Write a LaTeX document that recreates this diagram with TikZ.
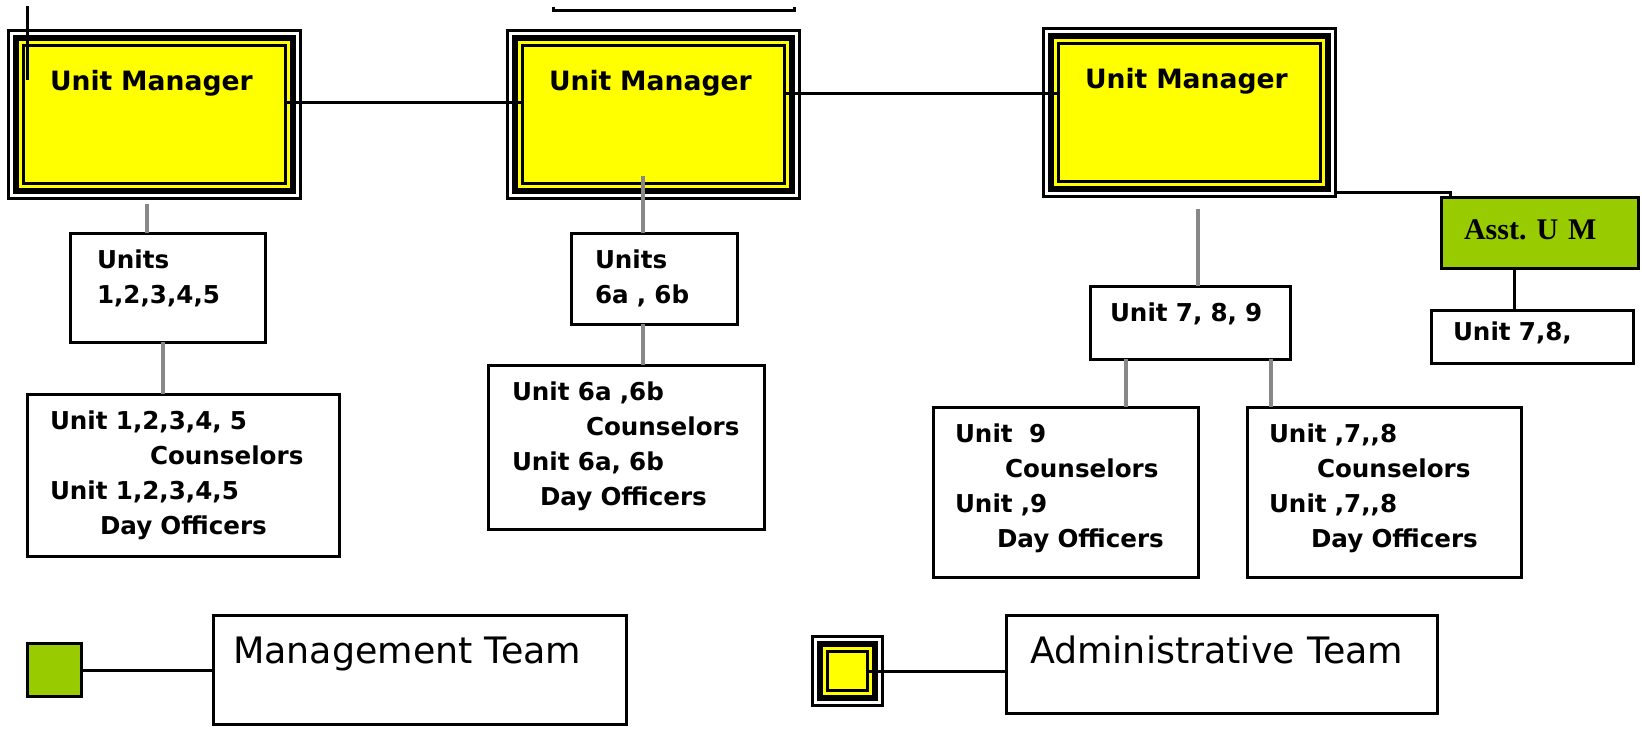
\documentclass[tikz,border=0pt]{standalone}
\usepackage{fontspec}
\setmainfont{DejaVu Sans}
\newfontfamily\asstfont{Liberation Serif}
\usetikzlibrary{positioning, calc}
\definecolor{umyellow}{RGB}{255,255,0}
\definecolor{umgreen}{RGB}{153,204,0}
\definecolor{lngray}{RGB}{136,136,136}
\frenchspacing

\begin{document}
\begin{tikzpicture}[
  x=0.5pt, y=-0.5pt,
  orgline/.style={draw=black, line width=1.5pt},
  orggrey/.style={draw=lngray, line width=2pt},
  orgbox/.style={draw=black, fill=white, line width=1.5pt, inner sep=0pt, outer sep=0pt,
    align=left, font=\fontsize{12.3pt}{17.5pt}\selectfont\bfseries, text height=17.5pt},
  umbox/.style={orgbox, fill=umyellow, minimum width=131pt, text width=104.5pt,
    text height=22.5pt, text depth=46.5pt, font=\fontsize{13.3pt}{16pt}\selectfont\bfseries},
  legbox/.style={orgbox, font=\fontsize{18.2pt}{22pt}\selectfont, text height=23.75pt}
]
\useasboundingbox (0,0) rectangle (1642,731);

%--------------------------------------------------------------
% Unit managers
%--------------------------------------------------------------
\node[umbox] (um1) at (154.5,114.5) {Unit Manager};
\node[umbox] (um2) at (653.5,114.5) {Unit Manager};
\node[umbox] (um3) at (1189.5,113) {Unit Manager};

%--------------------------------------------------------------
% Units and staff
%--------------------------------------------------------------
\node[orgbox, minimum width=97.5pt, text width=71pt, text depth=37pt] (u1) at (168,288)
  {Units\\1,2,3,4,5};
\node[orgbox, minimum width=156pt, text width=133.5pt, text depth=63.5pt] (c1) at (183.5,475.5)
  {Unit 1,2,3,4, 5\\\hspace*{50pt}Counselors\\Unit 1,2,3,4,5\\\hspace*{25pt}Day Officers};

\node[orgbox, minimum width=83pt, text width=59.5pt, text depth=28pt] (u2) at (654.5,279)
  {Units\\6a , 6b};
\node[orgbox, minimum width=138pt, text width=114.5pt, text depth=64.5pt] (c2) at (626.5,447.5)
  {Unit 6a ,6b\\\hspace*{37pt}Counselors\\Unit 6a, 6b\\\hspace*{14pt}Day Officers};

\node[orgbox, minimum width=100pt, text width=80.5pt, text depth=19pt] (u3) at (1190.5,323)
  {Unit 7, 8, 9};
\node[orgbox, minimum width=132.5pt, text width=111pt, text depth=67.5pt] (c3) at (1066,492.5)
  {Unit\ \ 9\\\hspace*{25pt}Counselors\\Unit ,9\\\hspace*{21pt}Day Officers};
\node[orgbox, minimum width=137pt, text width=115.5pt, text depth=67.5pt] (c4) at (1384.5,492.5)
  {Unit ,7,{},8\\\hspace*{24pt}Counselors\\Unit ,7,{},8\\\hspace*{21pt}Day Officers};

\node[orgbox, fill=umgreen, minimum width=98.5pt, text width=76pt, text height=21.25pt,
  text depth=14.25pt, font=\fontsize{15pt}{16pt}\selectfont\asstfont\bfseries] (asst) at (1540,233)
  {Asst. U M};
\node[orgbox, minimum width=101pt, text width=79.5pt, text height=15.25pt, text depth=11.25pt]
  (u4) at (1532.5,337) {Unit 7,8,};

%--------------------------------------------------------------
% Legend
%--------------------------------------------------------------
\node[orgbox, fill=umgreen, minimum width=27pt, minimum height=26.5pt] (lgm) at (54.5,670) {};
\node[legbox, minimum width=206.5pt, text width=187pt, text depth=30.75pt] (mgmt) at (420,670)
  {Management Team};
\node[orgbox, fill=umyellow, minimum width=20pt, minimum height=19.5pt] (lad) at (847.5,671) {};
\node[legbox, minimum width=215.5pt, text width=192pt, text depth=25.25pt] (adm) at (1222,664.5)
  {Administrative Team};

% layered frames of the administrative boxes
\foreach \n in {um1, um2, um3, lad}{
  \draw[umyellow, line width=1.5pt] ([shift={(-1.5pt,-1.5pt)}]\n.south west) rectangle ([shift={(1.5pt,1.5pt)}]\n.north east);
  \draw[black, line width=3pt] ([shift={(-3.75pt,-3.75pt)}]\n.south west) rectangle ([shift={(3.75pt,3.75pt)}]\n.north east);
  \draw[black, line width=1.5pt] ([shift={(-7.5pt,-7.5pt)}]\n.south west) rectangle ([shift={(7.5pt,7.5pt)}]\n.north east);
}

%--------------------------------------------------------------
% Connectors
%--------------------------------------------------------------
\draw[orgline] ([yshift=5.75pt]um1.east) -- ([yshift=5.75pt]um2.west);
\draw[orgline] ([yshift=10.25pt]um2.east) -- ([yshift=10.25pt]um2.east -| um3.west);
\draw[orgline] ([xshift=8.25pt,yshift=-5.5pt]um3.south east) -| ([xshift=4.5pt]asst.north west);
\draw[orgline] ([xshift=-13pt]asst.south) -- ([xshift=-13pt]asst.south |- u4.north);

\draw[orggrey] ([xshift=-3.75pt,yshift=-10.25pt]um1.south) -- ([xshift=-3.75pt]um1.south |- u1.north);
\draw[orggrey] ([xshift=-2.5pt]u1.south) -- ([xshift=-2.5pt]u1.south |- c1.north);
\draw[orggrey] ([xshift=-5.25pt,yshift=3.75pt]um2.south) -- ([xshift=-5.25pt]um2.south |- u2.north);
\draw[orggrey] ([xshift=-5.75pt]u2.south) -- ([xshift=-5.75pt]u2.south |- c2.north);
\draw[orggrey] ([xshift=4.25pt,yshift=-13.5pt]um3.south) -- ([xshift=4.25pt]um3.south |- u3.north);
\draw[orggrey] ([xshift=-32.25pt]u3.south) -- ([xshift=-32.25pt]u3.south |- c3.north);
\draw[orggrey] ([xshift=40.25pt]u3.south) -- ([xshift=40.25pt]u3.south |- c4.north);

\draw[orgline] (lgm.east) -- (lgm.east -| mgmt.west);
\draw[orgline] (lad.east) -- (lad.east -| adm.west);

% loose strokes at the top edge
\draw[orgline] (27,6) -- (27,80);
\draw[orgline] (553,7) -- (553,11) -- (794,11) -- (794,7);

\end{tikzpicture}
\end{document}
